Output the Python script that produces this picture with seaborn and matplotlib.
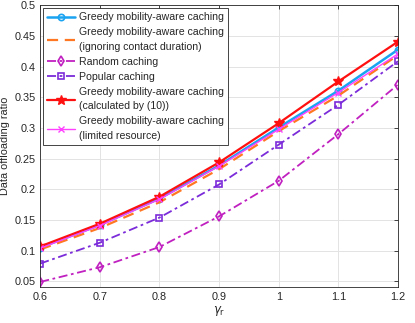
import matplotlib
matplotlib.use("Agg")
import matplotlib.pyplot as plt
import seaborn as sns
import pandas as pd

gamma = [0.6, 0.7, 0.8, 0.9, 1.0, 1.1, 1.2]
greedy = [0.105, 0.142, 0.185, 0.239, 0.301, 0.361, 0.428]
greedy_ign = [0.102, 0.137, 0.179, 0.233, 0.295, 0.353, 0.419]
random_c = [0.049, 0.073, 0.106, 0.156, 0.214, 0.290, 0.371]
popular = [0.079, 0.113, 0.154, 0.208, 0.273, 0.338, 0.409]
greedy_10 = [0.107, 0.144, 0.188, 0.244, 0.308, 0.376, 0.441]
greedy_lim = [0.104, 0.141, 0.184, 0.238, 0.298, 0.358, 0.421]

labels = ["Greedy mobility-aware caching",
          "Greedy mobility-aware caching\n(ignoring contact duration)",
          "Random caching",
          "Popular caching",
          "Greedy mobility-aware caching\n(calculated by (10))",
          "Greedy mobility-aware caching\n(limited resource)"]
series = [greedy, greedy_ign, random_c, popular, greedy_10, greedy_lim]

rows = []
for lab, vals in zip(labels, series):
    for g, v in zip(gamma, vals):
        rows.append({"gamma": g, "ratio": v, "series": lab})
df = pd.DataFrame(rows)

sns.set_style("white")
plt.rcParams['font.family'] = ['Liberation Sans', 'DejaVu Sans']
plt.rcParams['mathtext.fontset'] = 'dejavusans'

styles = [
    dict(color="#1AA3F0", marker="o", linestyle="-", lw=1.8, ms=4.5, mfc="none", mew=1.2),
    dict(color="#FF7722", marker=None, linestyle=(0, (5, 3)), lw=1.6, ms=4, mfc="none", mew=1),
    dict(color="#C020C0", marker="d", linestyle=(0, (5, 2, 1.5, 2)), lw=1.3, ms=5, mfc="none", mew=1.2),
    dict(color="#7B2BD9", marker="s", linestyle=(0, (5, 2, 1.5, 2)), lw=1.3, ms=4, mfc="none", mew=1.2),
    dict(color="#FF1010", marker="*", linestyle="-", lw=1.6, ms=7, mfc="#FF1010", mew=1),
    dict(color="#FF40FF", marker="x", linestyle="-", lw=1.0, ms=4.5, mfc="none", mew=1),
]

fig = plt.figure(figsize=(4.15, 3.23), dpi=100)
ax = fig.add_axes([0.097, 0.112, 0.862, 0.871])

for lab, st in zip(labels, styles):
    sub = df[df["series"] == lab]
    sns.lineplot(data=sub, x="gamma", y="ratio", ax=ax, label=lab,
                 color=st["color"], marker=st["marker"], linestyle=st["linestyle"],
                 linewidth=st["lw"], markersize=st["ms"], markerfacecolor=st["mfc"],
                 markeredgecolor=st["color"], markeredgewidth=st["mew"])

ax.set_xlim(0.6, 1.2)
ax.set_ylim(0.041, 0.5)
ax.set_xticks([0.6, 0.7, 0.8, 0.9, 1.0, 1.1, 1.2])
ax.set_xticklabels(["0.6", "0.7", "0.8", "0.9", "1", "1.1", "1.2"])
ax.set_yticks([0.05, 0.1, 0.15, 0.2, 0.25, 0.3, 0.35, 0.4, 0.45, 0.5])
ax.set_yticklabels(["0.05", "0.1", "0.15", "0.2", "0.25", "0.3", "0.35", "0.4", "0.45", "0.5"])
ax.grid(True, color="#E3E3E3", linewidth=0.7)
ax.tick_params(direction="in", length=3, labelsize=7.8, colors="#262626",
               top=True, right=True, width=0.6)
for s in ax.spines.values():
    s.set_color("#262626")
    s.set_linewidth(0.6)
ax.set_xlabel(r"$\gamma_{\mathrm{r}}$", fontsize=8.5, labelpad=2)
ax.set_ylabel("Data offloading ratio", fontsize=7.8, labelpad=3)

leg = ax.legend(loc="upper left", fontsize=7.6, frameon=True, fancybox=False,
                edgecolor="#262626", framealpha=1, handlelength=2.6,
                borderpad=0.4, labelspacing=0.48, handletextpad=0.45,
                borderaxespad=0.25)
for t in leg.get_texts():
    t.set_linespacing(1.55)
leg.get_frame().set_linewidth(0.6)

fig.savefig("out.png", dpi=100)
